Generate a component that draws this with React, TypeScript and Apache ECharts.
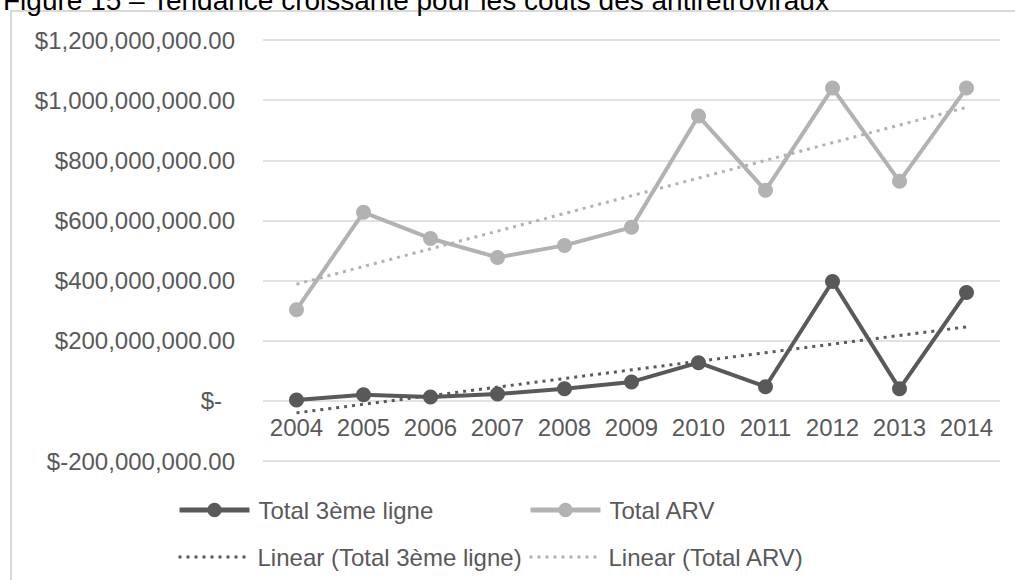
import React, { useEffect, useRef } from "react";
import * as echarts from "echarts";

const years = ["2004", "2005", "2006", "2007", "2008", "2009", "2010", "2011", "2012", "2013", "2014"];
const troisiemeLigne = [3e6, 20e6, 13e6, 23e6, 40e6, 63e6, 127e6, 47e6, 397e6, 40e6, 360e6];
const totalARV = [303e6, 627e6, 540e6, 477e6, 517e6, 577e6, 947e6, 700e6, 1040e6, 730e6, 1040e6];
// trendline end points
const trend3Start = -40e6;
const trend3End = 246e6;
const trendARVStart = 388e6;
const trendARVEnd = 976e6;
const yTicks = { min: -200e6, max: 1200e6, interval: 200e6 };

const DARK = "#595959";
const LIGHT = "#b2b2b2";
const FONT = '"Liberation Sans", Arial, sans-serif';

function fmt(v: number): string {
  if (v === 0) return "{z|$-}";
  const s = Math.abs(v).toLocaleString("en-US", { minimumFractionDigits: 2, maximumFractionDigits: 2 });
  return v < 0 ? "$-" + s : "$" + s;
}

export default function App() {
  const ref = useRef<HTMLDivElement>(null);
  useEffect(() => {
    if (!ref.current) return;
    const chart = echarts.init(ref.current, undefined, { renderer: "svg" });
    const gridTop = 40;
    const gridBottom = 119;
    const plotH = 580 - gridTop - gridBottom;
    // distance from bottom of grid (min) to the zero line
    const zeroOffset = (plotH * (0 - yTicks.min)) / (yTicks.max - yTicks.min);
    const legendBase = (name: string, left: number, top: number, trend: boolean) => ({
      data: [name],
      left,
      top: trend ? top : top - 2,
      padding: 0,
      itemWidth: 70,
      itemHeight: trend ? 14 : 18,
      selectedMode: false,
      itemStyle: trend ? { opacity: 0 } : {},
      lineStyle: trend ? { width: 3 } : { width: 5 },
      textStyle: { fontSize: 24, color: DARK, fontFamily: FONT, padding: [0, 0, 0, 4] },
    });
    chart.setOption({
      animation: false,
      backgroundColor: "#ffffff",
      graphic: [
        {
          type: "rect",
          shape: { x: 11, y: 11, width: 1100, height: 700 },
          style: { fill: "none", stroke: "#d9d9d9", lineWidth: 2 },
          silent: true,
          z: -10,
        },
        {
          type: "text",
          style: {
            text: "Figure 15 – Tendance croissante pour les coûts des antirétroviraux",
            x: 3,
            y: 14,
            font: '28px "Liberation Sans", Arial, sans-serif',
            fill: "#000000",
            verticalAlign: "bottom",
          },
        },
      ],
      grid: { left: 263, right: 15, top: gridTop, bottom: gridBottom, containLabel: false },
      xAxis: {
        type: "category",
        data: years,
        boundaryGap: true,
        position: "bottom",
        offset: -zeroOffset,
        axisLine: { show: false, onZero: false },
        axisTick: { show: false },
        axisLabel: { fontSize: 24, color: DARK, fontFamily: FONT, margin: 15, interval: 0 },
      },
      yAxis: {
        type: "value",
        min: yTicks.min,
        max: yTicks.max,
        interval: yTicks.interval,
        axisLine: { show: false },
        axisTick: { show: false },
        splitLine: { lineStyle: { color: "#d9d9d9", width: 1.5 } },
        axisLabel: {
          fontSize: 24,
          color: DARK,
          fontFamily: FONT,
          margin: 28,
          formatter: fmt,
          rich: { z: { fontSize: 24, color: DARK, fontFamily: FONT, padding: [0, 13, 0, 0] } },
        },
      },
      legend: [
        legendBase("Total 3ème ligne", 177, 500, false),
        legendBase("Total ARV", 528, 500, false),
        legendBase("Linear (Total 3ème ligne)", 177, 545, true),
        legendBase("Linear (Total ARV)", 528, 545, true),
      ],
      series: [
        {
          name: "Linear (Total 3ème ligne)",
          type: "line",
          data: [[years[0], trend3Start], [years[years.length - 1], trend3End]],
          symbol: "none",
          color: DARK,
          lineStyle: { color: DARK, width: 3, type: [3, 5] },
          z: 3,
        },
        {
          name: "Linear (Total ARV)",
          type: "line",
          data: [[years[0], trendARVStart], [years[years.length - 1], trendARVEnd]],
          symbol: "none",
          color: LIGHT,
          lineStyle: { color: LIGHT, width: 3, type: [3, 5] },
          z: 3,
        },
        {
          name: "Total 3ème ligne",
          type: "line",
          data: troisiemeLigne,
          symbol: "circle",
          symbolSize: 15,
          color: DARK,
          lineStyle: { color: DARK, width: 4 },
          itemStyle: { color: DARK },
          z: 2,
        },
        {
          name: "Total ARV",
          type: "line",
          data: totalARV,
          symbol: "circle",
          symbolSize: 15,
          color: LIGHT,
          lineStyle: { color: LIGHT, width: 4 },
          itemStyle: { color: LIGHT },
          z: 2,
        },
      ],
    });
    return () => chart.dispose();
  }, []);
  return <div ref={ref} style={{ width: 1015, height: 580, position: "fixed", left: 0, top: 0 }} />;
}
